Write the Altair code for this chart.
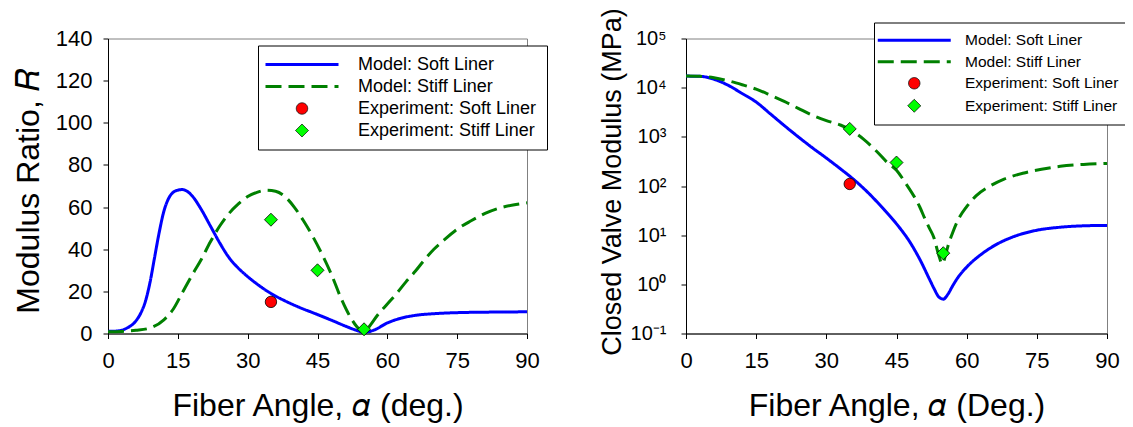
import altair as alt
import pandas as pd

SERIES = ["Model: Soft Liner", "Model: Stiff Liner",
          "Experiment: Soft Liner", "Experiment: Stiff Liner"]

# ---- left panel: modulus ratio R ----
R_SOFT_X = [0, 2, 4, 6, 7, 8, 9, 10, 11, 12, 13, 14, 15, 16, 17, 18, 20, 22, 24, 26, 28, 30,
            32, 35, 38, 41, 45, 48, 51, 53, 55, 57, 60, 63, 66, 70, 75, 80, 85, 90]
R_SOFT_Y = [1.0, 1.2, 2.5, 6, 9.5, 15, 24, 36, 48, 58, 64, 67, 68, 68.3, 67.5, 65.5, 59, 51,
            43, 36, 31, 27, 23.5, 19, 15.5, 12.5, 9, 6.3, 3.5, 1.8, 0.6, 1.5, 5, 7.3, 8.6,
            9.4, 9.9, 10.1, 10.2, 10.3]
R_STIFF_X = [0, 3, 6, 9, 12, 14, 16, 18, 20, 22, 24, 26, 28, 30, 32, 34, 36, 38, 40, 42, 44,
             46, 48, 50, 52, 54, 55, 56, 58, 60, 62, 64, 66, 68, 70, 72, 75, 78, 81, 84, 87, 90]
R_STIFF_Y = [0.8, 1, 1.5, 2.6, 6.5, 11.5, 19.5, 27.5, 35, 43.5, 51, 57, 61.5, 65, 67, 68,
             67.5, 65, 60, 53.5, 46, 37.5, 28, 17, 8, 2, 0.8, 3, 9, 14, 19, 24.5, 29.5, 35,
             40, 44, 49.5, 53.5, 57, 59.5, 61, 62]
EXP_X = [35, 35, 45, 55]
EXP_SERIES = ["Experiment: Soft Liner", "Experiment: Stiff Liner",
              "Experiment: Stiff Liner", "Experiment: Stiff Liner"]
R_EXP_Y = [15, 54, 30, 2]

# ---- right panel: closed valve modulus (MPa) ----
E_SOFT_X = [0, 3, 6, 9, 12, 15, 18, 21, 24, 27, 30, 33, 36, 39, 42, 45, 48, 50, 52, 53, 54,
            55, 56, 57, 58, 60, 63, 66, 70, 75, 80, 85, 90]
E_SOFT_Y = [17200, 17000, 14800, 11200, 7600, 5100, 2950, 1700, 1000, 600, 370, 224, 132,
            72, 36, 17, 6.9, 3.2, 1.3, 0.83, 0.56, 0.5, 0.63, 0.93, 1.32, 2.24, 4.0, 6.2,
            9.3, 12.6, 14.5, 15.5, 15.8]
E_STIFF_X = [0, 3, 6, 9, 12, 15, 18, 21, 24, 27, 30, 33, 35, 38, 41, 43, 45, 47, 49, 50, 51,
             52, 53, 54, 54.8, 55.5, 56, 57, 58, 60, 62, 65, 68, 72, 76, 80, 85, 90]
E_STIFF_Y = [17180, 16980, 15850, 13800, 11480, 9330, 7080, 5250, 3800, 2750, 2140, 1740,
             1410, 890, 480, 302, 209, 112, 56, 37, 22.4, 14.1, 8.9, 4.0, 2.6, 4.0, 6.0,
             11.2, 19, 38, 63, 100, 138, 182, 219, 251, 275, 288]
E_EXP_Y = [110, 1450, 300, 4.3]

X_TICKS = [0, 15, 30, 45, 60, 75, 90]
R_TICKS = [0, 20, 40, 60, 80, 100, 120, 140]
E_TICKS = [0.1, 1, 10, 100, 1000, 10000, 100000]

STROKES = ["#0000FF", "#008000", "#000000", "#000000"]
FILLS = ["transparent", "transparent", "#FF0000", "#00FF00"]
DASHES = [[1, 0], [16, 7], [1, 0], [1, 0]]
WIDTHS = [3, 3, 0.8, 0.8]
SIZES = [100, 100, 130, 169]

FONT = "Liberation Sans"


def model_frame(xs_a, ys_a, xs_b, ys_b):
    return pd.DataFrame({
        "x": list(xs_a) + list(xs_b),
        "y": list(ys_a) + list(ys_b),
        "series": [SERIES[0]] * len(xs_a) + [SERIES[1]] * len(xs_b),
    })


def exp_frame(ys):
    return pd.DataFrame({"x": EXP_X, "y": ys, "series": EXP_SERIES})


def panel(mdf, edf, yscale, yaxis, xtitle, width, legend, half):
    shapes = [f"M-{half},0H{half}", f"M-{half},0H{half}", "circle", "diamond"]
    xenc = alt.X("x:Q", scale=alt.Scale(domain=[0, 90], nice=False, zero=False),
                 axis=alt.Axis(values=X_TICKS, title=xtitle, labelFontSize=22,
                               titleFontSize=32, labelPadding=12, titlePadding=19,
                               labelFlush=False))
    yenc = alt.Y("y:Q", scale=yscale, axis=yaxis)
    stroke = alt.Stroke("series:N", scale=alt.Scale(domain=SERIES, range=STROKES), legend=legend)
    dash = alt.StrokeDash("series:N", scale=alt.Scale(domain=SERIES, range=DASHES), legend=legend)
    swidth = alt.StrokeWidth("series:N",
                             scale=alt.Scale(type="ordinal", domain=SERIES, range=WIDTHS),
                             legend=legend)
    fill = alt.Fill("series:N", scale=alt.Scale(domain=SERIES, range=FILLS), legend=legend)
    shape = alt.Shape("series:N", scale=alt.Scale(domain=SERIES, range=shapes), legend=legend)
    size = alt.Size("series:N", scale=alt.Scale(type="ordinal", domain=SERIES, range=SIZES),
                    legend=legend)

    lines = alt.Chart(mdf).mark_line(interpolate="monotone").encode(
        x=xenc, y=yenc, stroke=stroke, strokeDash=dash, strokeWidth=swidth,
        order=alt.Order("x:Q"))
    pts = alt.Chart(edf).mark_point(filled=True, opacity=1).encode(
        x=xenc, y=yenc, stroke=stroke, fill=fill, shape=shape, size=size,
        strokeWidth=swidth)
    return alt.layer(lines, pts).properties(width=width, height=295)


left_legend = alt.Legend(title=None, orient="none", legendX=150, legendY=7,
                         labelFontSize=18, labelFont=FONT, labelColor="black",
                         labelLimit=400, symbolOffset=25, labelOffset=47, rowPadding=4,
                         padding=10, strokeColor="black", fillColor="white")
right_legend = alt.Legend(title=None, orient="none", legendX=188, legendY=-16,
                          labelFontSize=15.5, labelFont=FONT, labelColor="black",
                          labelLimit=400, symbolOffset=22.5, labelOffset=43, rowPadding=4.5,
                          padding=10, strokeColor="black", fillColor="white")

left = panel(
    model_frame(R_SOFT_X, R_SOFT_Y, R_STIFF_X, R_STIFF_Y), exp_frame(R_EXP_Y),
    alt.Scale(domain=[0, 140], nice=False),
    alt.Axis(values=R_TICKS, title="Modulus Ratio, 𝑅", labelFontSize=22, titleFontSize=32,
             labelPadding=11, titlePadding=10, titleY=152),
    "Fiber Angle, 𝛼 (deg.)", 419, left_legend, 7.3)

right = panel(
    model_frame(E_SOFT_X, E_SOFT_Y, E_STIFF_X, E_STIFF_Y), exp_frame(E_EXP_Y),
    alt.Scale(type="log", domain=[0.1, 100000], nice=False),
    alt.Axis(values=E_TICKS, title="Closed Valve Modulus (MPa)", labelFontSize=20,
             titleFontSize=27, labelPadding=15, titlePadding=4, titleY=143,
             labelExpr="'10' + ['⁻¹','⁰','¹','²','³','⁴','⁵'][round(log(datum.value)/LN10)+1]"),
    "Fiber Angle, 𝛼 (Deg.)", 421, right_legend, 7.3)

chart = alt.hconcat(left, right, spacing=49).resolve_scale(
    stroke="independent", strokeDash="independent", strokeWidth="independent",
    fill="independent", shape="independent", size="independent"
).properties(
    padding={"left": 3, "top": -1.5, "right": -5, "bottom": 0}
).configure(font=FONT).configure_view(
    stroke="#808080", strokeWidth=1
).configure_axis(
    grid=False, domainColor="black", tickColor="black", tickSize=5,
    labelFont=FONT, titleFont=FONT, labelColor="black", titleColor="black",
    titleFontWeight="normal"
)

chart.save("out.html", embed_options={"renderer": "svg", "actions": False})
